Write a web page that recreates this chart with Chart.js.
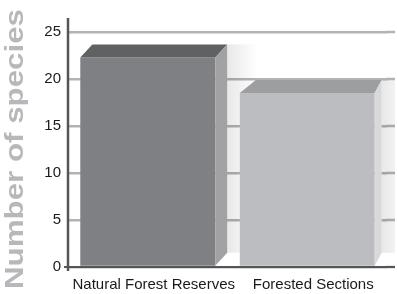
<!DOCTYPE html>
<html>
<head>
<meta charset="utf-8">
<script src="https://cdn.jsdelivr.net/npm/chart.js@4"></script>
<style>
  html, body { margin: 0; padding: 0; background: #fff; }
  #wrap { width: 397px; height: 294px; }
</style>
</head>
<body>
<div id="wrap"><canvas id="chart"></canvas></div>
<script>
// data
var categories = ["Natural Forest Reserves", "Forested Sections"]
var species_counts = [22.3, 18.5]
var y_ticks = [0, 5, 10, 15, 20, 25]
var y_title = "Number of species"

var front_colors = ["#7f8084", "#bcbdc0"]
var top_colors = ["#606163", "#9d9ea0"]
var side_colors = ["#a2a2a5", "#d9d9db"]
// 3d depth of the left / right edge of each bar (perspective)
var depth_left = [12, 16]
var depth_right = [12, 7]
var depth_y = 13
var wall_extra = 8   // gridlines run a bit past the last category

// soft wall shading behind bars + gridline stubs past the plot area
var wallShade = {
    id: "wallShade",
    beforeDatasetsDraw: function(chart){
        var ctx = chart.ctx
        var area = chart.chartArea
        var yScale = chart.scales.y
        ctx.save()
        ctx.strokeStyle = "#b3b3b6"
        ctx.lineWidth = 2.5
        y_ticks.forEach(function(v){
            var py = yScale.getPixelForValue(v)
            ctx.beginPath()
            ctx.moveTo(area.right - 1, py)
            ctx.lineTo(area.right + wall_extra, py)
            ctx.stroke()
        })
        ctx.beginPath()
        ctx.rect(area.left, area.top, area.right + wall_extra - area.left, area.bottom - area.top)
        ctx.clip()
        var meta = chart.getDatasetMeta(0)
        meta.data.forEach(function(bar, i){
            var right = bar.x + bar.width/2 + depth_right[i]
            var g = ctx.createLinearGradient(right, 0, right + 30, 0)
            g.addColorStop(0, "rgba(0,0,0,0.09)")
            g.addColorStop(1, "rgba(0,0,0,0)")
            ctx.fillStyle = g
            ctx.fillRect(right, bar.y - depth_y, 30, bar.base - bar.y)
        })
        ctx.restore()
    }
}

// draws the top and side faces of each bar, the axis lines and the y title
var bar3d = {
    id: "bar3d",
    afterDatasetsDraw: function(chart){
        var ctx = chart.ctx
        var meta = chart.getDatasetMeta(0)
        meta.data.forEach(function(bar, i){
            var left = bar.x - bar.width/2
            var right = bar.x + bar.width/2
            var top = bar.y
            var bottom = bar.base
            ctx.save()
            // top face
            ctx.fillStyle = top_colors[i]
            ctx.beginPath()
            ctx.moveTo(left, top)
            ctx.lineTo(left + depth_left[i], top - depth_y)
            ctx.lineTo(right + depth_right[i], top - depth_y)
            ctx.lineTo(right, top)
            ctx.closePath()
            ctx.fill()
            // side face
            ctx.fillStyle = side_colors[i]
            ctx.beginPath()
            ctx.moveTo(right, top)
            ctx.lineTo(right + depth_right[i], top - depth_y)
            ctx.lineTo(right + depth_right[i], bottom - depth_y)
            ctx.lineTo(right, bottom)
            ctx.closePath()
            ctx.fill()
            ctx.restore()
        })
        // axis lines
        var area = chart.chartArea
        ctx.save()
        ctx.strokeStyle = "#555558"
        ctx.lineWidth = 2.5
        ctx.beginPath()
        ctx.moveTo(area.left, area.top - 14)
        ctx.lineTo(area.left, area.bottom + 4)
        ctx.stroke()
        ctx.lineWidth = 2
        ctx.beginPath()
        ctx.moveTo(area.left - 4, area.bottom)
        ctx.lineTo(area.right + wall_extra, area.bottom)
        ctx.stroke()
        // y axis title, condensed to fit
        ctx.font = "bold 26px 'Liberation Sans'"
        ctx.fillStyle = "#b8b8bc"
        ctx.textAlign = "center"
        ctx.textBaseline = "middle"
        var w = ctx.measureText(y_title).width
        ctx.translate(16, 149)
        ctx.rotate(-Math.PI/2)
        ctx.scale(280 / w, 1)
        ctx.fillText(y_title, 0, 0)
        ctx.restore()
    }
}

new Chart(document.getElementById("chart"), {
    type: "bar",
    data: {
        labels: categories,
        datasets: [{
            data: species_counts,
            backgroundColor: front_colors,
            borderWidth: 0,
            barPercentage: 0.846,
            categoryPercentage: 1.0
        }]
    },
    options: {
        responsive: true,
        maintainAspectRatio: false,
        animation: false,
        layout: { padding: { top: 32, right: 2 + wall_extra, left: 0, bottom: 0 } },
        plugins: { legend: { display: false }, tooltip: { enabled: false } },
        scales: {
            x: {
                afterFit: function(scale){
                    scale.height = 27
                    scale.paddingLeft = 0
                    scale.paddingRight = 0
                },
                grid: { display: false, drawTicks: false },
                border: { display: false },
                ticks: {
                    color: "#1a1a1a",
                    padding: 9,
                    labelOffset: 6,
                    maxRotation: 0,
                    minRotation: 0,
                    autoSkip: false,
                    font: { family: "Liberation Sans", size: 15 }
                }
            },
            y: {
                min: 0,
                max: 25,
                afterFit: function(scale){
                    scale.width = 68
                    scale.paddingTop = 0
                    scale.paddingBottom = 0
                },
                afterBuildTicks: function(axis){
                    axis.ticks = y_ticks.map(function(v){ return { value: v } })
                },
                grid: { color: "#b3b3b6", lineWidth: 2.5, drawTicks: false },
                border: { display: false },
                ticks: {
                    color: "#1a1a1a",
                    padding: 7,
                    font: { family: "Liberation Sans", size: 15 }
                }
            }
        }
    },
    plugins: [wallShade, bar3d]
})
</script>
</body>
</html>
